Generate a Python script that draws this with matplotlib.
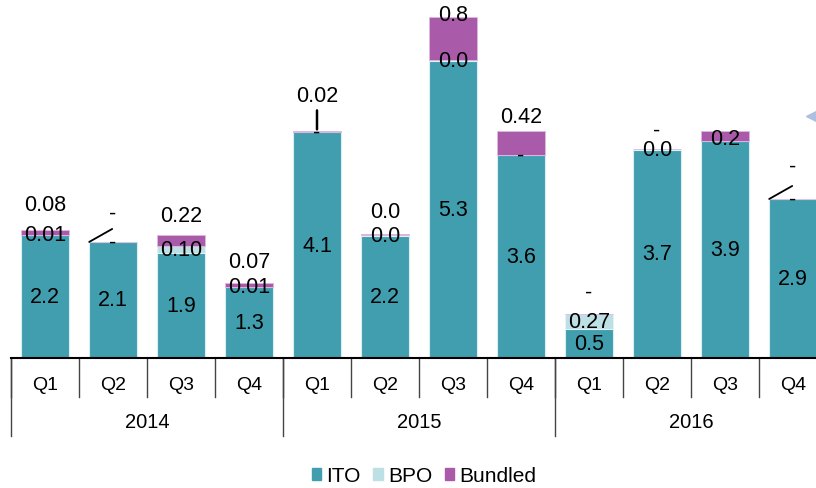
import matplotlib.pyplot as plt
from matplotlib.patches import Patch

plt.rcParams['font.family'] = ['Liberation Sans', 'DejaVu Sans']

# data (values per quarter)
quarters = ['Q1', 'Q2', 'Q3', 'Q4'] * 3
years = ['2014', '2015', '2016']
ito = [2.2, 2.08, 1.88, 1.27, 4.05, 2.19, 5.32, 3.64, 0.52, 3.73, 3.89, 2.85]
bpo = [0.01, 0.0, 0.12, 0.01, 0.0, 0.02, 0.02, 0.0, 0.27, 0.02, 0.0, 0.0]
bundled = [0.08, 0.0, 0.21, 0.07, 0.02, 0.02, 0.77, 0.43, 0.0, 0.0, 0.17, 0.0]

ito_labels = ['2.2', '2.1', '1.9', '1.3', '4.1', '2.2', '5.3', '3.6', '0.5', '3.7', '3.9', '2.9']
bpo_labels = ['0.01', '-', '0.10', '0.01', '-', '0.0', '0.0', '-', '0.27', '0.0', '', '-']
bundled_labels = ['0.08', '-', '0.22', '0.07', '0.02', '0.0', '0.8', '0.42', '-', '-', '0.2', '-']

# label offsets above bar top (pixels) and leader lines
bundled_dy = [26, 29, 19, 21, 35, 22, 3, 14, 22, 19, -7, 33]
leader = {1: 'diag', 4: 'vert', 11: 'diag'}

c_ito = '#419eae'
c_bpo = '#bde0e4'
c_bun = '#a95baa'

W, H = 816, 489
fig = plt.figure(figsize=(W / 100, H / 100), dpi=100)
base_px = 359
ax = fig.add_axes([11 / W, (H - base_px) / H, 816 / W, base_px / H])
px_per_unit = 55.8
ax.set_ylim(0, base_px / px_per_unit)
ax.set_xlim(-0.5, 11.5)

x = list(range(12))
bw = 0.7
ax.bar(x, ito, bw, color=c_ito, edgecolor='#d8eef0', linewidth=0.8)
b2 = [i + b for i, b in zip(ito, bpo)]
ax.bar(x, bpo, bw, bottom=ito, color=c_bpo, edgecolor='#e8f4f5', linewidth=0.6)
ax.bar(x, bundled, bw, bottom=b2, color=c_bun, edgecolor='#e0b8e0', linewidth=0.6)

fs = 15.5
for i in x:
    ax.text(i, ito[i] / 2, ito_labels[i], ha='center', va='center', fontsize=fs)
    if bpo_labels[i]:
        ax.text(i, ito[i] + bpo[i] / 2, bpo_labels[i], ha='center', va='center', fontsize=fs)
    top = b2[i] + bundled[i]
    dy = bundled_dy[i] * 0.72
    ax.annotate(bundled_labels[i], (i, top), xytext=(0, dy), textcoords='offset points',
                ha='center', va='center', fontsize=fs, annotation_clip=False)
    if leader.get(i) == 'diag':
        ax.annotate('', (i - bw / 2, top), xytext=(23 * 0.72, 13 * 0.72),
                    textcoords='offset points',
                    arrowprops=dict(arrowstyle='-', color='black', lw=1.3,
                                    shrinkA=0, shrinkB=0))
    elif leader.get(i) == 'vert':
        ax.annotate('', (i, top + 1.5 / px_per_unit), xytext=(0, 19 * 0.72),
                    textcoords='offset points',
                    arrowprops=dict(arrowstyle='-', color='black', lw=1.8,
                                    shrinkA=0, shrinkB=0))

# category axis: quarters and years
for s in ['top', 'right', 'left']:
    ax.spines[s].set_visible(False)
ax.spines['bottom'].set_linewidth(1.5)
ax.set_xticks([])
ax.set_yticks([])

tr = ax.get_xaxis_transform()
def ya(ypx):
    return (base_px - ypx) / base_px

for k in range(13):
    ax.plot([k - 0.5, k - 0.5], [0, ya(398)], color='#444444', lw=1,
            transform=tr, clip_on=False)
for k in [-0.5, 3.5, 7.5, 11.5]:
    ax.plot([k, k], [0, ya(437)], color='#444444', lw=1,
            transform=tr, clip_on=False)
for i in x:
    ax.text(i, ya(386), quarters[i], transform=tr, ha='center', va='center', fontsize=14)
for j, yr in enumerate(years):
    ax.text(4 * j + 1.5, ya(423), yr, transform=tr, ha='center', va='center', fontsize=14.5)

# cut-off marker at the right edge
fig.add_artist(plt.Line2D([814 / W], [1 - 117 / H], marker='<', markersize=11,
                          color='#aebfe2', transform=fig.transFigure))

handles = [Patch(color=c_ito, label='ITO'), Patch(color=c_bpo, label='BPO'),
           Patch(color=c_bun, label='Bundled')]
fig.legend(handles=handles, loc='center', bbox_to_anchor=(424 / W, 1 - 477 / H), ncol=3,
           frameon=False, fontsize=15, handlelength=0.45, handleheight=0.45,
           handletextpad=0.25, columnspacing=0.6)

fig.savefig('out.png', dpi=100)
